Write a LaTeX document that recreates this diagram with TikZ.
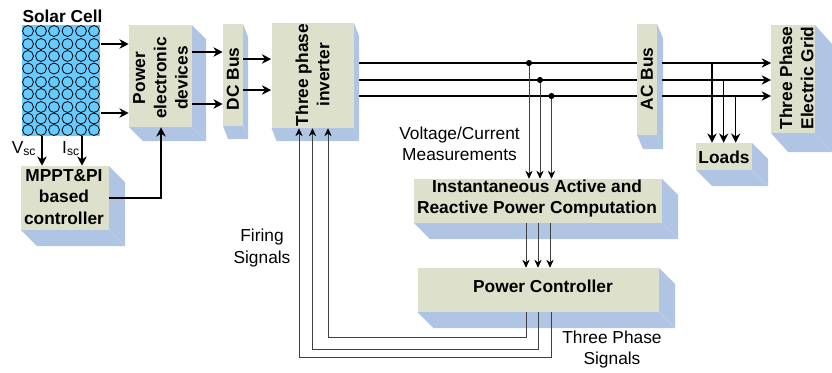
\documentclass[tikz,border=0pt]{standalone}
\usepackage{fontspec}
\setmainfont{Liberation Sans}
\usetikzlibrary{arrows.meta}
\definecolor{face}{HTML}{DDE1CB}
\definecolor{side}{HTML}{B0C5E4}
\definecolor{edgeline}{HTML}{BFD0EA}
\definecolor{cellblue}{HTML}{66CCFF}
\tikzset{
  x=0.75pt,y=-0.75pt,
  lab/.style={font=\fontsize{13pt}{15pt}\selectfont\bfseries,align=center,inner sep=0pt,text=black},
  plain/.style={font=\fontsize{13pt}{16pt}\selectfont,align=center,inner sep=0pt,text=black},
  wire/.style={line width=0.85pt,black,-{Stealth[length=7pt,width=7pt]}},
  bus/.style={line width=0.85pt,black},
  sig/.style={line width=0.55pt,black!75,-{Stealth[length=6pt,width=5.5pt,black]}},
  dot/.style={circle,fill=black,inner sep=0pt,minimum size=4.6pt},
  cell/.style={circle,draw=black,line width=0.6pt,inner sep=0pt,minimum size=8.2pt},
}
\newcommand{\boxthreed}[7]{% name x0 y0 x1 y1 dx dy
  \fill[side] (#4,#3) -- ++(#6,#7) -- (#4+#6,#5+#7) -- (#2+#6,#5+#7) -- (#2,#5) -- cycle;
  \draw[edgeline,line width=0.3pt] (#4,#5) -- (#4+#6,#5+#7);
  \node[fill=face,inner sep=0pt,minimum width={(#4-#2)*0.75pt},minimum height={(#5-#3)*0.75pt}] (#1) at ({(#2+#4)/2},{(#3+#5)/2}) {};
}
\begin{document}
\begin{tikzpicture}
\useasboundingbox (0,0) rectangle (832,372);
% free wire points
\coordinate (aL) at (354,63); \coordinate (bL) at (354,80); \coordinate (cL) at (354,96);
\coordinate (gA) at (771,63); \coordinate (gB) at (771,80); \coordinate (gC) at (771,96);
% three phase lines run behind the AC bus
\draw[bus] (aL) -- (637,63); \draw[bus] (bL) -- (637,80); \draw[bus] (cL) -- (637,96);

\boxthreed{pe}{129}{25}{192}{127}{14}{14}
\boxthreed{dcbus}{223}{24}{243}{126}{5}{13}
\boxthreed{inv}{271.5}{23}{354}{128}{5}{13}
\boxthreed{acbus}{637}{24}{657}{135}{6}{14}
\boxthreed{grid}{771}{25}{815}{133}{17}{19}
\boxthreed{loads}{696}{143}{752}{170}{16}{16}
\boxthreed{mppt}{21}{166}{109}{230}{16}{16}
\boxthreed{inst}{414}{179}{662}{223}{16}{16}
\boxthreed{pc}{417.5}{268}{659}{312}{16}{16}

% solar panel
\node[fill=cellblue,inner sep=0pt,minimum width=58.5pt,minimum height=83.25pt] (solar) at (61,80.5) {};
\foreach \cx in {28,41,54,67.5,81,94}
  \foreach \cy in {31,44,56,68.5,82,94,107,118.5,130}
    \node[cell] at (\cx,\cy) {};
\node[lab] (solarlab) at (62.5,16) {Solar Cell};

% labels
\node[lab,rotate=90] (pelab) at (160.5,78) {Power\\[1pt]electronic\\[1pt]devices};
\node[lab,rotate=90] (dclab) at (233,79) {DC Bus};
\node[lab,rotate=90] (invlab) at (312.5,75) {Three phase\\[1pt]inverter};
\node[lab,rotate=90] (aclab) at (647,79) {AC Bus};
\node[lab,rotate=90] (gridlab) at (796.5,78) {Three Phase\\[1pt]Electric Grid};
\node[lab] (loadslab) at (724,157) {Loads};
\node[lab] (mpptlab) at (64,197) {MPPT\&PI\\[1pt]based\\[1pt]controller};
\node[lab] (instlab) at (537,198.5) {Instantaneous Active and\\[1pt]Reactive Power Computation};
\node[lab] (pclab) at (543,286) {Power Controller};
\node[plain] (vclab) at (459.5,143.5) {Voltage/Current\\[0pt]Measurements};
\node[plain] (firelab) at (262,248) {Firing\\[0pt]Signals};
\node[plain] (tplab) at (612,349.5) {Three Phase\\[0pt]Signals};
\node[plain,anchor=base] (vsc) at (24,153) {V\textsubscript{sc}};
\node[plain,anchor=base] (isc) at (71,153) {I\textsubscript{sc}};

% main wires
\draw[wire] (solar.east |- 0,44) ++(1,0) -- (pe.west |- 0,44);
\draw[wire] (solar.east |- 0,113) ++(1,0) -- (pe.west |- 0,113);
\draw[wire] (pe.east |- 0,52) -- (dcbus.west |- 0,52);
\draw[wire] (pe.east |- 0,104) -- (dcbus.west |- 0,104);
\draw[wire] (dcbus.east |- 0,59) -- (inv.west |- 0,59);
\draw[wire] (dcbus.east |- 0,90) -- (inv.west |- 0,90);
\draw[wire] (solar.south -| 42,0) -- (mppt.north -| 42,0);
\draw[wire] (solar.south -| 82,0) -- (mppt.north -| 82,0);
\draw[wire] (mppt.east |- 0,198) -| (pe.south -| 161,0);
% bus to grid
\draw[wire] (662,63) -- (gA);
\draw[wire] (662,80) -- (gB);
\draw[wire] (662,96) -- (gC);
% loads
\draw[wire] (712,63) -- (loads.north -| 712,0);
\draw[wire] (723.7,80) -- (loads.north -| 723.7,0);
\draw[wire] (735.7,96) -- (loads.north -| 735.7,0);

% measurements
\node[dot] (j1) at (529,63) {};
\node[dot] (j2) at (540,80) {};
\node[dot] (j3) at (551.5,96) {};
\draw[sig] (j1) -- (inst.north -| j1);
\draw[sig] (j2) -- (inst.north -| j2);
\draw[sig] (j3) -- (inst.north -| j3);
% computation to controller
\draw[sig] (inst.south -| 526,0) -- (pc.north -| 526,0);
\draw[sig] (inst.south -| 538,0) -- (pc.north -| 538,0);
\draw[sig] (inst.south -| 550,0) -- (pc.north -| 550,0);
% firing signals
\draw[sig] (pc.south -| 526,0) |- (328,337.5) -- (inv.south -| 328,0);
\draw[sig] (pc.south -| 538.5,0) |- (312.5,349) -- (inv.south -| 312.5,0);
\draw[sig] (pc.south -| 551,0) |- (299,357) -- (inv.south -| 299,0);
\end{tikzpicture}
\end{document}
